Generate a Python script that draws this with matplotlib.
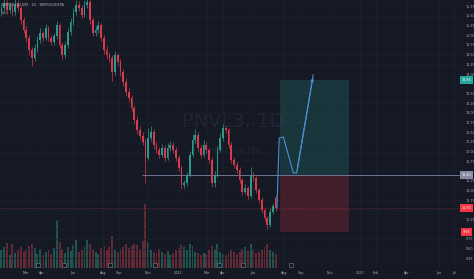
import matplotlib
matplotlib.use('Agg')
import matplotlib.pyplot as plt
import numpy as np
from matplotlib.patches import Rectangle
from matplotlib.transforms import blended_transform_factory

# daily-ish candles (BRL)
opens = np.array([
    15.60, 15.70, 15.83, 15.65, 15.76, 15.60, 15.81, 15.70, 15.39, 15.14,
    14.93, 14.62, 14.42, 14.67, 14.88, 15.06, 14.93, 15.19, 14.93, 14.83,
    14.98, 15.27, 14.75, 14.49, 14.75, 15.09, 15.34, 15.60, 15.78, 15.70,
    15.52, 15.78, 15.86, 15.39, 15.06, 15.14, 15.27, 14.93, 14.62, 14.49,
    14.42, 14.05, 14.49, 14.31, 14.05, 13.80, 13.54, 13.38, 13.13, 12.82,
    12.56, 12.41, 12.25, 11.84, 12.35, 12.51, 12.17, 12.04, 11.92, 12.10,
    11.84, 12.10, 12.17, 12.04, 11.84, 11.58, 11.14, 11.19, 11.40, 11.92,
    12.30, 12.43, 12.10, 11.92, 12.17, 12.04, 11.79, 11.19, 11.40, 12.04,
    12.35, 12.61, 12.56, 12.17, 11.79, 11.66, 11.53, 11.27, 10.96, 11.07,
    10.86, 11.40, 11.32, 11.01, 10.76, 10.50, 10.29, 10.11, 10.45, 10.81,
])
highs = np.array([
    15.82, 15.95, 15.92, 15.85, 15.84, 15.93, 15.90, 15.78, 15.48, 15.25,
    15.02, 14.70, 14.78, 14.97, 15.18, 15.12, 15.30, 15.24, 15.02, 15.07,
    15.36, 15.32, 14.83, 14.84, 15.18, 15.45, 15.71, 15.92, 15.88, 15.77,
    15.90, 16.00, 15.92, 15.46, 15.24, 15.36, 15.31, 15.01, 14.72, 14.58,
    14.48, 14.60, 14.55, 14.38, 14.12, 13.90, 13.63, 13.45, 13.20, 12.92,
    12.66, 12.50, 12.32, 12.62, 12.65, 12.58, 12.26, 12.12, 12.20, 12.18,
    12.22, 12.28, 12.24, 12.12, 11.92, 11.66, 11.28, 11.48, 12.02, 12.45,
    12.58, 12.50, 12.18, 12.30, 12.25, 12.10, 11.85, 11.50, 12.15, 12.48,
    12.72, 12.66, 12.60, 12.24, 11.86, 11.74, 11.60, 11.33, 11.16, 11.12,
    11.60, 11.48, 11.38, 11.06, 10.82, 10.57, 10.35, 10.55, 10.68, 10.88,
])
lows = np.array([
    15.50, 15.62, 15.55, 15.58, 15.50, 15.52, 15.62, 15.30, 15.05, 14.82,
    14.50, 14.20, 14.35, 14.58, 14.80, 14.84, 14.88, 14.85, 14.74, 14.76,
    14.90, 14.66, 14.40, 14.42, 14.68, 15.00, 15.26, 15.52, 15.62, 15.44,
    15.46, 15.70, 15.30, 14.98, 14.98, 15.06, 14.86, 14.52, 14.40, 14.32,
    13.82, 13.98, 14.22, 13.96, 13.70, 13.44, 13.28, 13.04, 12.72, 12.46,
    12.32, 12.16, 11.20, 11.78, 12.28, 12.08, 11.96, 11.84, 11.86, 11.76,
    11.78, 12.02, 11.96, 11.76, 11.50, 11.04, 11.06, 11.12, 11.34, 11.86,
    12.22, 12.02, 11.84, 11.86, 11.96, 11.70, 11.08, 11.10, 11.34, 11.98,
    12.28, 12.48, 12.10, 11.70, 11.58, 11.46, 11.18, 10.88, 10.90, 10.78,
    10.80, 11.24, 10.94, 10.68, 10.42, 10.20, 10.01, 10.05, 10.38, 10.48,
])
closes = np.array([
    15.70, 15.83, 15.65, 15.76, 15.60, 15.81, 15.70, 15.39, 15.14, 14.93,
    14.62, 14.42, 14.67, 14.88, 15.06, 14.93, 15.19, 14.93, 14.83, 14.98,
    15.27, 14.75, 14.49, 14.75, 15.09, 15.34, 15.60, 15.78, 15.70, 15.52,
    15.78, 15.86, 15.39, 15.06, 15.14, 15.27, 14.93, 14.62, 14.49, 14.42,
    14.05, 14.49, 14.31, 14.05, 13.80, 13.54, 13.38, 13.13, 12.82, 12.56,
    12.41, 12.25, 11.84, 12.35, 12.51, 12.17, 12.04, 11.92, 12.10, 11.84,
    12.10, 12.17, 12.04, 11.84, 11.58, 11.14, 11.19, 11.40, 11.92, 12.30,
    12.43, 12.10, 11.92, 12.17, 12.04, 11.79, 11.19, 11.40, 12.04, 12.35,
    12.61, 12.56, 12.17, 11.79, 11.66, 11.53, 11.27, 10.96, 11.07, 10.86,
    11.40, 11.32, 11.01, 10.76, 10.50, 10.29, 10.11, 10.45, 10.60, 10.55,
])
volumes = np.array([  # thousands
    520, 610, 740, 380, 700, 430, 520, 610, 480, 560,
    650, 720, 600, 420, 560, 390, 470, 520, 410, 600,
    1420, 780, 560, 430, 620, 510, 690, 840, 470, 530,
    610, 830, 720, 560, 470, 420, 580, 650, 520, 610,
    940, 540, 470, 560, 620, 700, 580, 640, 720, 690,
    560, 800, 1880, 760, 520, 480, 430, 560, 470, 420,
    500, 380, 450, 520, 580, 690, 610, 540, 720, 640,
    480, 430, 390, 450, 410, 520, 640, 560, 700, 470,
    420, 380, 450, 520, 480, 410, 470, 560, 620, 510,
    700, 560, 430, 470, 520, 610, 700, 540, 480, 420,
])

# long position tool
entry = 11.40
target = 13.85
stop = 9.93
last_price = 10.55

# projected path drawn on the chart
path_idx = [99.5, 100.3, 101.8, 105.4, 106.6, 112.6]
path_price = [10.55, 12.35, 12.38, 11.45, 11.45, 13.98]

# dividend / event markers under the volume
event_idx = [13.2, 22.6, 39.2, 55.5, 78.6, 87.2, 104.6]

price_ticks = np.arange(9.25, 15.76, 0.25)
time_pos = [8.9, 14.7, 25.9, 36.7, 42.5, 52.9, 63.8, 74.2, 80.0, 90.8,
            102.0, 108.2, 118.6, 129.5, 135.2, 146.4, 158.0, 163.4]
time_labels = ['Mar', 'Apr', 'Jun', 'Aug', 'Sep', 'Nov', '2022', 'Mar', 'Apr', 'Jun',
               'Aug', 'Sep', 'Nov', '2023', 'Feb', 'Apr', 'Jun', 'Jul']

bg = '#151924'
txt = '#a9acb6'
color_up = '#2b9a8c'
color_down = '#d63a4f'

fig = plt.figure(figsize=(4.74, 2.79), dpi=100, facecolor=bg)
pos = [0, 11 / 279, 462 / 474, 268 / 279]
vax = fig.add_axes(pos)
ax = fig.add_axes(pos, sharex=vax)
ax.patch.set_visible(False)
vax.set_facecolor(bg)

idx = np.arange(len(closes))
up = closes >= opens
down = ~up

# volume
vax.bar(idx[up], volumes[up], width=0.7, color='#215550', lw=0)
vax.bar(idx[down], volumes[down], width=0.7, color='#632a36', lw=0)
vax.set_ylim(0, 7900)
vax.set_yticks([])
vax.tick_params(bottom=False, labelbottom=False)
for s in vax.spines.values():
    s.set_visible(False)

# grid
ax.set_yticks(price_ticks)
ax.set_xticks(time_pos)
ax.grid(True, color='#1d2130', lw=0.5)
ax.set_axisbelow(True)

# watermark
ax.text(0.504, 0.545, 'PNVL3, 1D', transform=ax.transAxes, ha='center', va='center',
        fontsize=14, color='#222633', zorder=0)
ax.text(0.504, 0.433, 'DIMED ON NM', transform=ax.transAxes, ha='center', va='center',
        fontsize=5.5, color='#222633', zorder=0)

# position boxes
left, right = 100.6, 125.5
ax.add_patch(Rectangle((left, entry), right - left, target - entry,
                       facecolor=(38 / 255, 166 / 255, 154 / 255, 0.2), lw=0, zorder=1))
ax.add_patch(Rectangle((left, stop), right - left, entry - stop,
                       facecolor=(242 / 255, 54 / 255, 69 / 255, 0.2), lw=0, zorder=1))

# candles
ax.vlines(idx[up], lows[up], highs[up], color=color_up, lw=0.5, zorder=2)
ax.vlines(idx[down], lows[down], highs[down], color=color_down, lw=0.5, zorder=2)
ax.bar(idx[up], np.maximum(closes[up] - opens[up], 0.02), bottom=opens[up],
       width=0.62, color=color_up, lw=0, zorder=3)
ax.bar(idx[down], np.maximum(opens[down] - closes[down], 0.02), bottom=closes[down],
       width=0.62, color=color_down, lw=0, zorder=3)

# lines
ax.hlines(entry, 50.8, 170, color='#7d81a6', lw=0.6, zorder=2)
ax.axhline(last_price, color='#f23645', lw=0.4, ls=(0, (1, 1.5)), alpha=0.7, zorder=2)

# projected path
ax.plot(path_idx, path_price, color='#4a8fd2', lw=0.8, zorder=4)
ax.annotate('', xy=(path_idx[-1], path_price[-1]), xytext=(path_idx[-2], path_price[-2]),
            arrowprops=dict(arrowstyle='-|>', color='#4a8fd2', lw=0.8, mutation_scale=4),
            zorder=4)

# event markers
tr = blended_transform_factory(ax.transData, ax.transAxes)
ax.scatter(event_idx, [0.012] * len(event_idx), transform=tr, marker='s', s=8,
           facecolor=bg, edgecolor='#7c7f8a', lw=0.4, zorder=5, clip_on=False)

ax.set_xlim(-0.5, 166.3)
ax.set_ylim(9.0, 15.91)

# price scale
specials = [(target, '#26a69a'), (entry, '#868aa3'), (last_price, '#f23645'), (stop, '#f23645')]
ylabels = []
for p in price_ticks:
    if any(abs(p - sp) < 0.13 for sp, _ in specials):
        ylabels.append('')
    else:
        ylabels.append(f'{p:.2f}')
ax.yaxis.tick_right()
ax.set_yticklabels(ylabels)
ax.set_xticklabels(time_labels)
ax.tick_params(axis='y', length=0, labelsize=2.4, labelcolor=txt, pad=2.5)
ax.tick_params(axis='x', length=0, labelsize=2.4, labelcolor=txt, pad=2.5)
for s in ax.spines.values():
    s.set_visible(False)

ytr = blended_transform_factory(ax.transAxes, ax.transData)
for sp, c in specials:
    ax.text(1.0105, sp, f'{sp:.2f}', transform=ytr, ha='center', va='center',
            fontsize=2.4, color='white', clip_on=False,
            bbox=dict(boxstyle='square,pad=0.5', facecolor=c, edgecolor='none'))

# legend at top left
fig.text(0.004, 0.988, 'DIMED ON NM · 1D · BMFBOVESPA', fontsize=2.6, color=txt, va='top')
fig.text(0.004, 0.962, 'Vol', fontsize=2.6, color=txt, va='top')

fig.savefig('out.png', dpi=100, facecolor=bg)
